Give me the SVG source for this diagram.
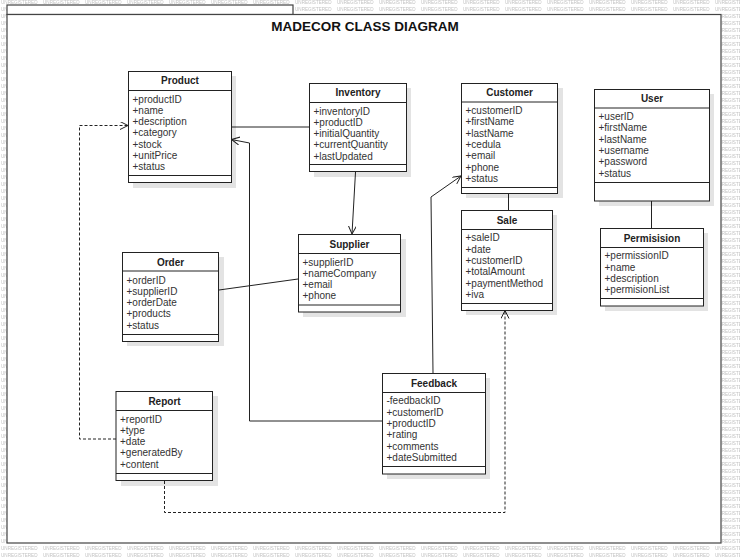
<svg xmlns="http://www.w3.org/2000/svg" width="740" height="557" viewBox="0 0 740 557">
<defs>
<pattern id="wm" width="42" height="7" patternUnits="userSpaceOnUse">
<text x="1" y="4.2" font-family="Liberation Sans, Arial, sans-serif" font-size="4.6" fill="#c2c2c2">UNREGISTERED</text>
</pattern>
<marker id="arr" markerWidth="10" markerHeight="10" refX="8" refY="4" orient="auto" markerUnits="userSpaceOnUse">
<path d="M0,0 L8,4 L0,8" fill="none" stroke="#222" stroke-width="1"/>
</marker>
</defs>
<style>
.box{fill:#fff;stroke:#222;stroke-width:1}
.sh{fill:#000;fill-opacity:0.11}
.sep{stroke:#222;stroke-width:1}
.ttl{font-family:"Liberation Sans",Arial,sans-serif;font-size:10px;font-weight:bold;fill:#222;text-anchor:middle}
.att{font-family:"Liberation Sans",Arial,sans-serif;font-size:10px;fill:#333}
.ln{fill:none;stroke:#222;stroke-width:1}
.dl{fill:none;stroke:#222;stroke-width:1;stroke-dasharray:3 2}
</style>
<rect x="0" y="0" width="740" height="557" fill="#fff"/>
<rect x="0" y="0" width="740" height="557" fill="url(#wm)"/>
<g id="frame">
<rect x="7" y="5" width="286" height="9.5" fill="#fff" stroke="#444" stroke-width="1.2"/>
<rect x="7" y="14.5" width="714" height="528.5" fill="#fff" stroke="#444" stroke-width="1.2"/>
<text x="365" y="30.7" text-anchor="middle" font-family="Liberation Sans, Arial, sans-serif" font-size="13.5" font-weight="bold" fill="#111">MADECOR CLASS DIAGRAM</text>
</g>
<g id="connectors">
<line class="ln" x1="231" y1="127" x2="309" y2="127"/>
<line class="ln" x1="355.5" y1="172" x2="352" y2="234" marker-end="url(#arr)"/>
<line class="ln" x1="219" y1="290" x2="298" y2="279"/>
<line class="ln" x1="508.5" y1="193" x2="508.5" y2="210"/>
<line class="ln" x1="651.5" y1="201" x2="651.5" y2="228"/>
<polyline class="ln" points="382,421 249.5,421 249.5,143 231.5,139.5" marker-end="url(#arr)"/>
<polyline class="ln" points="433,373 431,197 461,176" marker-end="url(#arr)"/>
<polyline class="dl" points="116,439 79.5,439 79.5,125.5 128,125.5" marker-end="url(#arr)"/>
<polyline class="dl" points="164.5,481 164.5,512.5 505,512.5 505,310.5" marker-end="url(#arr)"/>
</g>
<g id="product">
<rect class="sh" x="133" y="76" width="103" height="112"/>
<rect class="box" x="128.5" y="71.5" width="103" height="111"/>
<line class="sep" x1="128.5" y1="90.5" x2="231.5" y2="90.5"/>
<line class="sep" x1="128.5" y1="175.5" x2="231.5" y2="175.5"/>
<text class="ttl" x="180" y="84">Product</text>
<text class="att" x="132.5" y="102.5">+productID</text>
<text class="att" x="132.5" y="113.8">+name</text>
<text class="att" x="132.5" y="125.1">+description</text>
<text class="att" x="132.5" y="136.4">+category</text>
<text class="att" x="132.5" y="147.7">+stock</text>
<text class="att" x="132.5" y="159">+unitPrice</text>
<text class="att" x="132.5" y="170.3">+status</text>
</g>
<g id="inventory">
<rect class="sh" x="314" y="88" width="97" height="89"/>
<rect class="box" x="309.5" y="83.5" width="97" height="88"/>
<line class="sep" x1="309.5" y1="102.5" x2="406.5" y2="102.5"/>
<line class="sep" x1="309.5" y1="164.5" x2="406.5" y2="164.5"/>
<text class="ttl" x="358" y="96">Inventory</text>
<text class="att" x="313.5" y="114.5">+inventoryID</text>
<text class="att" x="313.5" y="125.8">+productID</text>
<text class="att" x="313.5" y="137.1">+initialQuantity</text>
<text class="att" x="313.5" y="148.4">+currentQuantity</text>
<text class="att" x="313.5" y="159.7">+lastUpdated</text>
</g>
<g id="customer">
<rect class="sh" x="466" y="88" width="97" height="110"/>
<rect class="box" x="461.5" y="83.5" width="96" height="110"/>
<line class="sep" x1="461.5" y1="102" x2="557.5" y2="102"/>
<line class="sep" x1="461.5" y1="187.5" x2="557.5" y2="187.5"/>
<text class="ttl" x="509.5" y="96">Customer</text>
<text class="att" x="465.5" y="114">+customerID</text>
<text class="att" x="465.5" y="125.3">+firstName</text>
<text class="att" x="465.5" y="136.6">+lastName</text>
<text class="att" x="465.5" y="147.9">+cedula</text>
<text class="att" x="465.5" y="159.2">+email</text>
<text class="att" x="465.5" y="170.5">+phone</text>
<text class="att" x="465.5" y="181.8">+status</text>
</g>
<g id="user">
<rect class="sh" x="599" y="94" width="115" height="112"/>
<rect class="box" x="594.5" y="89.5" width="115" height="111.5"/>
<line class="sep" x1="594.5" y1="108" x2="709.5" y2="108"/>
<line class="sep" x1="594.5" y1="182.5" x2="709.5" y2="182.5"/>
<text class="ttl" x="652" y="102">User</text>
<text class="att" x="598.5" y="120">+userID</text>
<text class="att" x="598.5" y="131.3">+firstName</text>
<text class="att" x="598.5" y="142.6">+lastName</text>
<text class="att" x="598.5" y="153.9">+username</text>
<text class="att" x="598.5" y="165.2">+password</text>
<text class="att" x="598.5" y="176.5">+status</text>
</g>
<g id="sale">
<rect class="sh" x="466" y="215" width="91" height="100"/>
<rect class="box" x="461.5" y="210.5" width="91" height="100"/>
<line class="sep" x1="461.5" y1="229.5" x2="552.5" y2="229.5"/>
<line class="sep" x1="461.5" y1="303.5" x2="552.5" y2="303.5"/>
<text class="ttl" x="507" y="223.5">Sale</text>
<text class="att" x="465.5" y="241.3">+saleID</text>
<text class="att" x="465.5" y="252.6">+date</text>
<text class="att" x="465.5" y="263.9">+customerID</text>
<text class="att" x="465.5" y="275.2">+totalAmount</text>
<text class="att" x="465.5" y="286.5">+paymentMethod</text>
<text class="att" x="465.5" y="297.8">+iva</text>
</g>
<g id="permisision">
<rect class="sh" x="605" y="233" width="103" height="78"/>
<rect class="box" x="600.5" y="228.5" width="103" height="77.5"/>
<line class="sep" x1="600.5" y1="247.5" x2="703.5" y2="247.5"/>
<line class="sep" x1="600.5" y1="298.5" x2="703.5" y2="298.5"/>
<text class="ttl" x="652" y="241.5">Permisision</text>
<text class="att" x="604.5" y="259.3">+permissionID</text>
<text class="att" x="604.5" y="270.6">+name</text>
<text class="att" x="604.5" y="281.9">+description</text>
<text class="att" x="604.5" y="293.2">+permisionList</text>
</g>
<g id="supplier">
<rect class="sh" x="303" y="239" width="103" height="78"/>
<rect class="box" x="298.5" y="234.5" width="102" height="77.5"/>
<line class="sep" x1="298.5" y1="253.5" x2="400.5" y2="253.5"/>
<line class="sep" x1="298.5" y1="305" x2="400.5" y2="305"/>
<text class="ttl" x="349.5" y="247.5">Supplier</text>
<text class="att" x="302.5" y="265.5">+supplierID</text>
<text class="att" x="302.5" y="276.8">+nameCompany</text>
<text class="att" x="302.5" y="288.1">+email</text>
<text class="att" x="302.5" y="299.4">+phone</text>
</g>
<g id="order">
<rect class="sh" x="127" y="257" width="97" height="89"/>
<rect class="box" x="122.5" y="252.5" width="96" height="89"/>
<line class="sep" x1="122.5" y1="271" x2="218.5" y2="271"/>
<line class="sep" x1="122.5" y1="334.5" x2="218.5" y2="334.5"/>
<text class="ttl" x="170.5" y="265.5">Order</text>
<text class="att" x="126.5" y="283.5">+orderID</text>
<text class="att" x="126.5" y="294.8">+supplierID</text>
<text class="att" x="126.5" y="306.1">+orderDate</text>
<text class="att" x="126.5" y="317.4">+products</text>
<text class="att" x="126.5" y="328.7">+status</text>
</g>
<g id="report">
<rect class="sh" x="121" y="396" width="97" height="90"/>
<rect class="box" x="116" y="391.5" width="96.5" height="89"/>
<line class="sep" x1="116" y1="410.5" x2="212.5" y2="410.5"/>
<line class="sep" x1="116" y1="473.5" x2="212.5" y2="473.5"/>
<text class="ttl" x="164.5" y="404.5">Report</text>
<text class="att" x="120" y="422.5">+reportID</text>
<text class="att" x="120" y="433.8">+type</text>
<text class="att" x="120" y="445.1">+date</text>
<text class="att" x="120" y="456.4">+generatedBy</text>
<text class="att" x="120" y="467.7">+content</text>
</g>
<g id="feedback">
<rect class="sh" x="387" y="378" width="103" height="101"/>
<rect class="box" x="382.5" y="373.5" width="103" height="100.5"/>
<line class="sep" x1="382.5" y1="392.5" x2="485.5" y2="392.5"/>
<line class="sep" x1="382.5" y1="466.5" x2="485.5" y2="466.5"/>
<text class="ttl" x="434" y="386.5">Feedback</text>
<text class="att" x="386.5" y="404.3">-feedbackID</text>
<text class="att" x="386.5" y="415.6">+customerID</text>
<text class="att" x="386.5" y="426.9">+productID</text>
<text class="att" x="386.5" y="438.2">+rating</text>
<text class="att" x="386.5" y="449.5">+comments</text>
<text class="att" x="386.5" y="460.8">+dateSubmitted</text>
</g>
</svg>
